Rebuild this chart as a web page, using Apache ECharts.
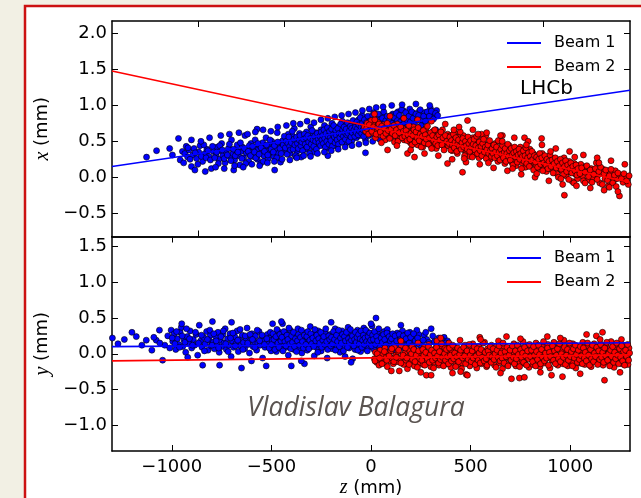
<!DOCTYPE html>
<html><head><meta charset="utf-8">
<script src="https://cdn.jsdelivr.net/npm/echarts@6/dist/echarts.min.js"></script>
<style>html,body{margin:0;padding:0;background:#f2f0e4}#c{width:641px;height:498px}</style>
</head><body><div id="c"></div>
<script>
// ---- data ----
const seriesNames = ['Beam 1', 'Beam 2'];
const zTicksBottom = [-1000, -500, 0, 500, 1000];
const zTicksTop = [-1000, -500, 0, 500, 1000];
const xTicks = [-0.5, 0, 0.5, 1.0, 1.5, 2.0];
const yTicks = [-1.0, -0.5, 0, 0.5, 1.0, 1.5];

// top panel fit lines (z, x)
const beam1LineX = [[-1500, 0.15], [1500, 1.21]];
const beam2LineX = [[-1500, 1.48], [1500, -0.07]];
// bottom panel fit lines (z, y)
const beam1LineY = [[-1300, 0.10], [1300, 0.155]];
const beam2LineY = [[-1300, -0.10], [1300, -0.015]];

// top panel vertices, beam 1 (z, x)
const beam1PtsX = [
[-1300,0.28],[-1242,0.37],[-1166,0.40],[-1115,0.54],[-1150,0.31],[-1105,0.24],
[-1092,0.36],[-1085,0.20],[-1078,0.33],[-1070,0.43],[-1062,0.28],[-1055,0.38],[-1040,0.15],[-1032,0.31],[-1025,0.40],[-1010,0.26],[-998,0.35],[-990,0.44],[-975,0.22],[-962,0.33],[-950,0.39],[-938,0.29],[-925,0.12],[-912,0.36],
[-898,0.31],[-890,0.42],[-880,0.25],[-872,0.37],[-865,0.47],[-858,0.30],[-845,0.20],[-838,0.35],[-826,0.40],[-815,0.28],[-808,0.52],[-800,0.33],[-790,0.24],[-782,0.38],[-775,0.45],[-768,0.30],[-760,0.17],[-752,0.36],[-745,0.42],[-738,0.27],[-730,0.58],[-722,0.34],[-715,0.40],[-708,0.22],[-702,0.31],[-795,0.10],
[-695,0.47],[-690,0.36],[-684,0.29],[-678,0.41],[-671,0.52],[-665,0.33],[-658,0.25],[-652,0.39],[-645,0.44],[-640,0.19],[-633,0.35],[-627,0.48],[-620,0.30],[-614,0.40],[-608,0.55],[-601,0.37],[-595,0.26],[-588,0.43],[-582,0.34],[-575,0.50],[-569,0.41],[-562,0.29],[-556,0.46],[-550,0.38],[-543,0.62],[-537,0.33],[-530,0.45],[-524,0.21],[-517,0.42],[-511,0.51],[-505,0.36],[-660,0.67],[-558,0.10],
[-498,0.47],[-494,0.55],[-489,0.38],[-484,0.44],[-479,0.60],[-474,0.49],[-469,0.33],[-464,0.52],[-459,0.42],[-454,0.57],[-449,0.46],[-444,0.68],[-439,0.40],[-434,0.50],[-429,0.36],[-424,0.54],[-419,0.45],[-414,0.61],[-409,0.48],[-404,0.28],[-399,0.52],[-394,0.43],[-389,0.57],[-384,0.49],[-379,0.39],[-374,0.63],[-369,0.51],[-364,0.45],[-359,0.55],[-354,0.41],[-349,0.70],[-344,0.50],[-339,0.58],[-334,0.46],[-329,0.35],[-324,0.53],[-319,0.62],[-314,0.48],[-309,0.56],[-304,0.44],[-437,0.29],
[-298,0.60],[-294,0.51],[-290,0.66],[-286,0.55],[-282,0.45],[-278,0.62],[-274,0.57],[-270,0.72],[-266,0.50],[-262,0.59],[-258,0.40],[-254,0.64],[-250,0.55],[-246,0.68],[-242,0.52],[-238,0.61],[-234,0.47],[-230,0.58],[-226,0.75],[-222,0.54],[-218,0.63],[-214,0.49],[-210,0.66],[-206,0.57],[-202,0.44],[-198,0.62],[-194,0.53],[-190,0.70],[-186,0.59],[-182,0.64],[-178,0.50],[-174,0.67],[-170,0.56],[-166,0.78],[-162,0.61],[-158,0.52],[-154,0.65],[-150,0.58],[-146,0.71],[-142,0.48],[-138,0.63],[-134,0.57],[-130,0.69],[-126,0.54],[-122,0.66],[-118,0.60],[-114,0.73],[-110,0.51],[-106,0.64],[-250,0.30],
[-100,0.69],[-96,0.60],[-92,0.74],[-88,0.65],[-84,0.55],[-80,0.71],[-76,0.63],[-72,0.80],[-68,0.67],[-64,0.58],[-60,0.72],[-56,0.64],[-52,0.86],[-48,0.69],[-44,0.61],[-40,0.75],[-36,0.66],[-32,0.52],[-28,0.71],[-24,0.79],[-20,0.63],[-16,0.70],[-12,0.58],[-8,0.74],[-4,0.67],[0,0.82],[4,0.62],[8,0.72],[12,0.68],[16,0.90],[20,0.64],[24,0.76],[28,0.57],[32,0.71],[36,0.81],[40,0.66],[44,0.74],[48,0.60],[52,0.78],[56,0.69],[60,0.87],[64,0.72],[68,0.63],[72,0.76],[76,0.68],[80,0.84],[84,0.70],[88,0.61],[92,0.79],[96,0.73],[-32,0.34],
[102,0.75],[108,0.66],[114,0.82],[120,0.71],[126,0.88],[132,0.77],[138,0.64],[144,0.80],[150,0.72],[156,0.91],[162,0.76],[168,0.84],[174,0.69],[180,0.79],[186,0.93],[192,0.74],[198,0.83],[204,0.70],[210,0.87],[216,0.78],[224,0.95],[232,0.81],[240,0.73],[248,0.89],[256,0.79],[264,0.85],[272,0.68],[280,0.92],[290,0.83],[300,0.77],[310,0.90],[320,0.86],[332,0.80],[344,0.96],[356,0.88],[368,0.84],[380,0.93],[210,0.63],[160,0.60],[290,0.72],
[-1060,0.41],[-1048,0.25],[-1018,0.34],[-1003,0.18],[-983,0.29],[-968,0.45],[-955,0.27],[-944,0.37],[-930,0.24],[-918,0.43],[-905,0.27],
[-894,0.35],[-884,0.19],[-876,0.44],[-861,0.38],[-850,0.26],[-832,0.31],[-820,0.46],[-811,0.23],[-797,0.39],[-786,0.30],[-771,0.35],[-756,0.48],[-748,0.26],[-733,0.40],[-726,0.19],[-711,0.36],[-705,0.44],
[-698,0.30],[-686,0.43],[-675,0.35],[-667,0.27],[-655,0.47],[-648,0.32],[-636,0.41],[-624,0.22],[-617,0.36],[-605,0.45],[-598,0.31],[-585,0.52],[-578,0.39],[-566,0.35],[-559,0.44],[-546,0.27],[-540,0.49],[-527,0.40],[-520,0.33],[-508,0.45],[-502,0.57],
[-496,0.41],[-491,0.50],[-486,0.32],[-481,0.47],[-476,0.56],[-471,0.43],[-466,0.38],[-461,0.48],[-456,0.64],[-451,0.39],[-446,0.53],[-441,0.45],[-436,0.30],[-431,0.56],[-426,0.47],[-421,0.40],[-416,0.52],[-411,0.58],[-406,0.44],[-401,0.49],[-396,0.37],[-391,0.53],[-386,0.60],[-381,0.46],[-376,0.55],[-371,0.42],[-366,0.58],[-361,0.49],[-356,0.33],[-351,0.54],[-346,0.46],[-341,0.65],[-336,0.52],[-331,0.43],[-326,0.57],[-321,0.50],[-316,0.39],[-311,0.61],[-306,0.53],[-301,0.48],
[-296,0.57],[-292,0.44],[-288,0.63],[-284,0.52],[-280,0.58],[-276,0.47],[-272,0.66],[-268,0.54],[-264,0.42],[-260,0.61],[-256,0.50],[-252,0.69],[-248,0.57],[-244,0.46],[-240,0.64],[-236,0.55],[-232,0.51],[-228,0.67],[-224,0.43],[-220,0.59],[-216,0.72],[-212,0.56],[-208,0.48],[-204,0.65],[-200,0.58],[-196,0.52],[-192,0.68],[-188,0.46],[-184,0.61],[-180,0.55],[-176,0.74],[-172,0.60],[-168,0.49],[-164,0.66],[-160,0.57],[-156,0.70],[-152,0.62],[-148,0.53],[-144,0.67],[-140,0.59],[-136,0.76],[-132,0.61],[-128,0.50],[-124,0.65],[-120,0.71],[-116,0.56],[-112,0.68],[-108,0.62],[-104,0.79],
[-98,0.66],[-94,0.57],[-90,0.70],[-86,0.62],[-82,0.77],[-78,0.68],[-74,0.59],[-70,0.73],[-66,0.64],[-62,0.83],[-58,0.70],[-54,0.61],[-50,0.75],[-46,0.66],[-42,0.57],[-38,0.80],[-34,0.69],[-30,0.63],[-26,0.76],[-22,0.67],[-18,0.85],[-14,0.73],[-10,0.64],[-6,0.78],[-2,0.70],[2,0.60],[6,0.77],[10,0.86],[14,0.71],[18,0.66],[22,0.80],[26,0.73],[30,0.63],[34,0.77],[38,0.70],[42,0.88],[46,0.75],[50,0.65],[54,0.80],[58,0.72],[62,0.67],[66,0.82],[70,0.74],[74,0.91],[78,0.72],[82,0.65],[86,0.79],[90,0.71],[94,0.85],[98,0.68],
[105,0.78],[111,0.70],[117,0.86],[123,0.75],[129,0.67],[135,0.83],[141,0.74],[147,0.89],[153,0.79],[159,0.70],[165,0.86],[171,0.77],[177,0.94],[183,0.73],[189,0.82],[195,0.76],[201,0.90],[207,0.80],[213,0.72],[220,0.85],[228,0.77],[236,0.91],[244,0.82],[252,0.74],[260,0.88],[268,0.80],[276,0.86],[285,0.94],[295,0.80],[305,0.85],[315,0.78],[326,0.91],[338,0.85],[350,0.92],[362,0.81],[374,0.89],[386,0.86],
[-1040,0.52],[-1020,0.10],[-985,0.50],[-960,0.08],[-935,0.55],[-900,0.14],[-870,0.58],[-850,0.12],[-820,0.60],[-790,0.16],[-765,0.62],[-740,0.14],[-715,0.60],[-690,0.18],[-670,0.63],[-645,0.16],[-625,0.66],[-600,0.20],[-580,0.64],[-560,0.22],[-540,0.70],[-515,0.25],[-490,0.72],[-470,0.24],[-450,0.75],[-430,0.27],[-410,0.74],[-390,0.30],[-370,0.78],[-350,0.29],[-330,0.76],[-310,0.33],[-290,0.80],[-270,0.35],[-250,0.82],[-230,0.37],[-210,0.84],[-190,0.39],[-170,0.86],[-150,0.42],[-130,0.88],[-110,0.44],[-90,0.90],[-70,0.46],[-50,0.93],[-30,0.48],[-10,0.95],[10,0.50],[30,0.97],[50,0.53],[70,0.98],[90,0.55],[120,1.00],[150,0.57],[180,1.01],[220,0.60],[260,1.02],[300,0.63],[340,1.00],[375,0.66]
];

// top panel vertices, beam 2 (z, x)
const beam2PtsX = [
[-38,0.70],[-30,0.64],[-22,0.75],[-14,0.60],[-6,0.68],[2,0.79],[10,0.62],[18,0.72],[26,0.55],[34,0.66],[42,0.76],[50,0.59],[58,0.69],[66,0.63],[74,0.73],[82,0.52],[90,0.66],[96,0.38],[104,0.60],[112,0.71],[120,0.57],[128,0.65],[136,0.49],[144,0.62],[152,0.74],[160,0.55],[168,0.64],[176,0.59],[184,0.68],[192,0.52],
[200,0.61],[206,0.54],[211,0.33],[216,0.66],[222,0.57],[228,0.48],[234,0.63],[240,0.55],[246,0.70],[252,0.28],[258,0.52],[264,0.60],[270,0.45],[276,0.58],[282,0.65],[288,0.50],[294,0.56],[300,0.42],[306,0.62],[312,0.53],[318,0.68],[324,0.47],[330,0.57],[336,0.51],[342,0.61],[348,0.44],[354,0.55],[360,0.64],[366,0.49],[372,0.58],[378,0.40],[384,0.53],[390,0.62],[396,0.47],[402,0.56],[408,0.50],[414,0.66],[420,0.44],[428,0.54],[436,0.48],[443,0.19],[444,0.60],
[450,0.52],[455,0.43],[460,0.58],[465,0.47],[470,0.37],[475,0.54],[480,0.46],[485,0.62],[490,0.41],[495,0.51],[500,0.33],[505,0.48],[510,0.56],[515,0.40],[520,0.50],[525,0.44],[530,0.07],[535,0.58],[540,0.38],[545,0.47],[550,0.53],[555,0.35],[559,0.79],[560,0.45],[565,0.51],[570,0.29],[575,0.43],[580,0.49],[585,0.37],[590,0.55],[595,0.41],[600,0.46],[605,0.32],[610,0.50],[615,0.39],[620,0.44],[625,0.27],[630,0.47],[635,0.36],[640,0.52],[645,0.40],[650,0.34],[655,0.45],[660,0.38],[665,0.58],[670,0.31],[675,0.42],[680,0.36],[685,0.48],[690,0.25],[695,0.39],[640,0.60],
[700,0.35],[705,0.42],[710,0.29],[715,0.38],[720,0.47],[725,0.32],[730,0.37],[735,0.22],[740,0.40],[745,0.31],[750,0.36],[755,0.49],[760,0.28],[765,0.34],[770,0.41],[775,0.19],[780,0.30],[785,0.37],[790,0.26],[795,0.33],[800,0.44],[805,0.29],[810,0.35],[815,0.21],[820,0.31],[825,0.38],[830,0.25],[835,0.33],[840,0.16],[845,0.28],[850,0.36],[855,0.24],[860,0.30],[865,0.42],[870,0.27],[875,0.20],[880,0.32],[885,0.25],[890,0.35],[895,0.14],[900,0.28],[905,0.22],[910,0.31],[915,0.26],[920,0.39],[925,0.18],[930,0.27],[935,0.23],[940,0.33],[945,0.20],[761,0.58],[889,0.55],
[950,0.25],[956,0.17],[962,0.30],[968,0.21],[974,0.12],[980,0.26],[986,0.19],[992,0.33],[998,0.22],[1004,0.15],[1010,0.24],[1016,0.08],[1022,0.20],[1028,0.28],[1034,0.16],[1040,0.22],[1046,0.11],[1052,0.19],[1058,0.26],[1064,0.14],[1070,0.21],[1076,0.05],[1082,0.17],[1088,0.24],[1094,0.12],[1100,0.19],[1106,0.09],[1112,0.16],[1118,0.27],[1120,-0.25],[1124,0.13],[1130,0.02],[1136,0.18],[1142,0.10],[1148,0.22],[1154,0.07],[1160,0.14],[1166,-0.06],[1172,0.11],[1178,0.19],[1184,0.04],[1190,0.13],[1196,-0.02],[988,0.54],
[1205,0.10],[1215,0.18],[1225,0.02],[1235,0.09],[1245,0.15],[1255,-0.04],[1265,0.06],[1275,0.12],[1285,-0.01],[1295,0.08],[1305,0.20],[1315,0.03],[1325,-0.08],[1335,0.06],[1345,0.11],[1355,-0.02],[1365,0.04],[1375,-0.12],[1385,0.07],[1395,0.00],[1405,-0.05],[1415,0.09],[1425,-0.02],[1439,-0.26],[1445,0.03],[1460,-0.07],[1475,0.01],[1490,-0.10],
[-25,0.68],[-10,0.73],[5,0.64],[14,0.70],[22,0.80],[30,0.60],[38,0.69],[46,0.74],[54,0.63],[62,0.71],[70,0.57],[78,0.68],[86,0.61],[94,0.75],[100,0.65],[108,0.54],[116,0.67],[124,0.61],[132,0.72],[140,0.58],[148,0.66],[156,0.50],[164,0.62],[172,0.70],[180,0.55],[188,0.64],[196,0.57],
[203,0.65],[209,0.51],[214,0.59],[219,0.72],[225,0.53],[231,0.61],[237,0.45],[243,0.58],[249,0.66],[255,0.49],[261,0.63],[267,0.55],[273,0.69],[279,0.51],[285,0.60],[291,0.42],[297,0.57],[303,0.65],[309,0.48],[315,0.59],[321,0.53],[327,0.71],[333,0.46],[339,0.55],[345,0.62],[351,0.40],[357,0.58],[363,0.51],[369,0.66],[375,0.47],[381,0.56],[387,0.44],[393,0.59],[399,0.52],[405,0.63],[411,0.45],[417,0.55],[423,0.38],[431,0.58],[439,0.50],[447,0.44],
[452,0.47],[457,0.56],[462,0.38],[467,0.51],[472,0.45],[477,0.60],[482,0.41],[487,0.49],[492,0.55],[497,0.36],[502,0.46],[507,0.52],[512,0.43],[517,0.63],[522,0.39],[527,0.48],[532,0.54],[537,0.42],[542,0.30],[547,0.50],[552,0.44],[557,0.39],[562,0.56],[567,0.47],[572,0.36],[577,0.51],[582,0.42],[587,0.28],[592,0.46],[597,0.53],[602,0.38],[607,0.44],[612,0.57],[617,0.33],[622,0.41],[627,0.49],[632,0.37],[637,0.43],[642,0.30],[647,0.47],[652,0.53],[657,0.35],[662,0.42],[667,0.26],[672,0.39],[677,0.45],[682,0.33],[687,0.51],[692,0.37],[697,0.29],
[702,0.40],[707,0.33],[712,0.45],[717,0.27],[722,0.36],[727,0.42],[732,0.30],[737,0.51],[742,0.35],[747,0.24],[752,0.39],[757,0.32],[762,0.44],[767,0.27],[772,0.35],[777,0.40],[782,0.22],[787,0.33],[792,0.46],[797,0.29],[802,0.37],[807,0.24],[812,0.40],[817,0.31],[822,0.17],[827,0.34],[832,0.42],[837,0.28],[842,0.36],[847,0.21],[852,0.31],[857,0.39],[862,0.25],[867,0.33],[872,0.12],[877,0.29],[882,0.37],[887,0.22],[892,0.30],[897,0.41],[902,0.19],[907,0.27],[912,0.34],[917,0.15],[922,0.29],[927,0.23],[932,0.36],[937,0.25],[942,0.10],[947,0.30],
[953,0.21],[959,0.28],[965,0.14],[971,0.25],[977,0.33],[983,0.18],[989,0.27],[995,0.09],[1001,0.20],[1007,0.30],[1013,0.17],[1019,0.25],[1025,0.12],[1031,0.22],[1037,0.31],[1043,0.15],[1049,0.24],[1055,0.06],[1061,0.19],[1067,0.27],[1073,0.13],[1079,0.22],[1085,0.00],[1091,0.16],[1097,0.25],[1103,0.11],[1109,0.20],[1115,0.04],[1121,0.15],[1127,0.23],[1133,0.08],[1139,0.17],[1145,-0.03],[1151,0.12],[1157,0.20],[1163,0.06],[1169,0.15],[1175,-0.08],[1181,0.09],[1187,0.17],[1193,0.03],[1199,0.12],
[1210,0.05],[1220,0.13],[1230,-0.05],[1240,0.07],[1250,0.16],[1260,0.01],[1270,0.10],[1280,-0.07],[1290,0.04],[1300,0.12],[1310,-0.03],[1320,0.08],[1330,0.14],[1340,-0.10],[1350,0.05],[1360,0.10],[1370,-0.04],[1380,0.02],[1390,0.11],[1400,-0.08],[1410,0.03],[1420,-0.13],[1430,0.06],[1450,-0.02],[1465,0.05],[1480,-0.05],[1495,0.02],
[20,0.88],[60,0.48],[110,0.85],[150,0.44],[190,0.82],[230,0.38],[270,0.80],[310,0.33],[350,0.78],[390,0.30],[430,0.74],[470,0.25],[510,0.70],[550,0.21],[590,0.66],[630,0.18],[670,0.62],[710,0.13],[750,0.58],[790,0.09],[830,0.55],[870,0.04],[910,0.50],[950,0.00],[990,0.45],[1030,-0.05],[1070,0.40],[1110,-0.10],[1150,0.36],[1190,-0.12],[1230,0.31],[1270,-0.15],[1310,0.27],[1350,-0.18],[1390,0.23],[1430,-0.20],[1470,0.18],[480,0.66],[620,0.60],[760,0.50],[900,0.45],[1040,0.36],[1180,0.28],[1320,0.20],[540,0.26],[680,0.20],[820,0.12],[960,0.05],[1100,-0.02],[1240,-0.08],[1380,-0.14]
];

// bottom panel vertices, beam 1 (z, y)
const beam1PtsY = [
[-1298,0.22],[-1238,0.20],[-1178,0.24],[-1128,0.19],[-1100,0.05],[-1078,0.19],[-1062,0.33],[-1046,-0.09],[-1035,0.12],[-1020,0.25],[-1010,0.08],[-1003,0.33],[-1150,0.12],[-1270,0.14],[-1060,0.15],[-1090,0.23],
[-995,0.17],[-988,0.28],[-980,0.06],[-972,0.21],[-965,0.13],[-958,0.30],[-952,0.37],[-945,0.10],[-938,0.19],[-930,0.02],[-922,0.24],[-915,0.15],[-908,0.32],[-900,0.08],[-892,0.20],[-885,0.12],[-878,0.27],[-870,-0.02],[-862,0.40],[-855,0.18],[-848,0.09],[-845,-0.16],[-840,0.23],[-832,0.14],[-825,0.31],[-818,0.05],[-812,0.19],[-806,0.26],[-802,0.11],[-920,-0.05],
[-796,0.45],[-792,0.16],[-786,0.07],[-780,0.24],[-774,0.13],[-768,0.30],[-762,0.02],[-760,-0.16],[-756,0.19],[-750,0.10],[-744,0.27],[-738,0.15],[-732,0.35],[-726,0.06],[-720,0.21],[-714,0.12],[-708,0.28],[-702,-0.04],[-696,0.18],[-690,0.09],[-684,0.24],[-678,0.14],[-672,0.32],[-666,0.03],[-660,0.20],[-654,0.11],[-650,-0.20],[-646,0.26],[-640,0.16],[-634,0.07],[-628,0.22],[-622,0.36],[-616,0.13],[-610,0.01],[-604,0.19],[-598,0.28],[-592,0.10],[-586,0.17],[-580,0.25],[-574,0.05],[-568,0.15],[-562,0.31],[-556,0.12],[-550,0.21],[-544,-0.06],[-538,0.18],[-532,0.09],[-526,-0.17],[-520,0.27],[-514,0.14],[-508,0.22],[-502,0.04],
[-497,0.19],[-494,0.42],[-490,0.10],[-485,0.25],[-480,0.15],[-475,0.03],[-470,0.21],[-465,0.31],[-460,0.12],[-455,0.18],[-450,0.07],[-444,0.42],[-440,0.23],[-435,0.14],[-430,0.28],[-425,0.09],[-420,0.19],[-415,-0.02],[-410,0.16],[-405,0.33],[-400,-0.17],[-396,0.11],[-392,0.22],[-387,0.06],[-382,0.17],[-377,0.26],[-372,0.13],[-367,0.35],[-362,0.08],[-357,0.20],[-352,0.15],[-347,0.01],[-342,0.24],[-337,0.12],[-334,-0.14],[-330,0.29],[-325,0.18],[-320,0.05],[-315,0.21],[-310,0.14],[-305,0.38],[-300,0.10],[-295,0.19],[-290,0.27],[-285,-0.03],[-280,0.16],[-275,0.23],[-270,0.08],[-265,0.32],[-260,0.13],[-255,0.20],[-250,0.04],[-245,0.25],[-240,0.15],[-235,0.10],[-230,0.30],[-225,0.18],[-220,-0.06],[-215,0.22],[-210,0.12],[-205,0.27],
[-200,0.16],[-195,0.07],[-190,0.24],[-185,0.13],[-180,0.35],[-175,0.19],[-170,0.09],[-165,0.28],[-160,0.15],[-155,0.02],[-150,0.21],[-145,0.32],[-140,0.11],[-135,0.18],[-130,-0.04],[-125,0.25],[-120,0.14],[-115,0.37],[-110,0.08],[-105,0.20],[-100,0.29],[-95,0.12],[-92,-0.07],[-88,0.17],[-84,0.26],[-80,0.06],[-76,0.22],[-72,0.14],[-68,0.33],[-64,0.10],[-60,0.19],[-56,0.27],[-52,0.03],[-48,0.16],[-44,0.24],[-40,0.11],[-36,0.36],[-32,0.18],[-28,0.07],[-24,0.23],[-20,0.14],[-16,0.30],[-12,0.09],[-8,0.20],[-4,0.26],[0,0.13],[5,0.39],[10,0.17],[15,0.06],[20,0.22],[25,0.50],[30,0.15],[36,0.28],[42,0.10],[48,0.19],[54,0.25],[60,0.12],[66,0.31],[72,0.08],[78,0.21],[82,0.34],[88,0.16],[94,0.27],
[100,0.13],[106,0.23],[112,0.05],[118,0.19],[126,0.05],[132,0.29],[138,0.15],[145,0.22],[152,0.09],[158,0.32],[165,0.18],[172,0.26],[180,0.12],[188,0.21],[195,0.30],[202,0.16],[210,0.24],[218,0.10],[226,0.19],[240,0.27],[255,0.14],[267,0.26],[280,0.20],[302,0.35],[318,0.17],[340,0.22],[367,0.23],[384,0.18],[230,0.33],[210,0.07],
[-998,0.22],[-984,0.14],[-976,0.31],[-961,0.09],[-948,0.25],[-934,0.16],[-926,0.35],[-911,0.21],[-896,0.12],[-881,0.30],[-866,0.15],[-851,0.26],[-836,0.04],[-821,0.20],[-809,0.33],
[-798,0.12],[-789,0.28],[-777,0.18],[-765,0.08],[-753,0.24],[-741,0.32],[-729,0.14],[-717,0.03],[-705,0.22],[-693,0.29],[-681,0.11],[-669,0.19],[-657,0.34],[-643,0.06],[-631,0.25],[-619,0.15],[-607,0.27],[-595,0.20],[-583,0.09],[-571,0.33],[-559,0.18],[-547,0.26],[-535,0.13],[-523,0.21],[-511,0.08],[-505,0.30],
[-499,0.13],[-492,0.28],[-487,0.20],[-482,0.06],[-477,0.24],[-472,0.34],[-467,0.15],[-462,0.09],[-457,0.27],[-452,0.18],[-447,0.23],[-442,0.04],[-437,0.31],[-432,0.17],[-427,0.11],[-422,0.26],[-417,0.20],[-412,0.36],[-407,0.14],[-402,0.07],[-398,0.25],[-394,0.16],[-389,0.30],[-384,0.10],[-379,0.21],[-374,0.03],[-369,0.18],[-364,0.27],[-359,0.12],[-354,0.23],[-349,0.33],[-344,0.17],[-339,0.08],[-335,0.26],[-327,0.13],[-322,0.24],[-317,0.31],[-312,0.07],[-307,0.19],[-302,0.28],[-297,0.14],[-292,0.22],[-287,0.10],[-282,0.34],[-277,0.18],[-272,0.26],[-267,0.02],[-262,0.21],[-257,0.15],[-252,0.30],[-247,0.09],[-242,0.19],[-237,0.24],[-232,0.13],[-227,0.35],[-222,0.17],[-217,0.06],[-212,0.25],[-207,0.20],[-202,0.11],
[-198,0.23],[-193,0.14],[-188,0.31],[-183,0.20],[-178,0.05],[-173,0.26],[-168,0.17],[-163,0.33],[-158,0.10],[-153,0.22],[-148,0.15],[-143,0.27],[-138,0.04],[-133,0.24],[-128,0.18],[-123,0.30],[-118,0.09],[-113,0.21],[-108,0.16],[-103,0.34],[-98,0.19],[-93,0.25],[-86,0.11],[-82,0.20],[-78,0.30],[-74,0.16],[-70,0.23],[-66,0.05],[-62,0.27],[-58,0.14],[-54,0.21],[-50,0.32],[-46,0.09],[-42,0.19],[-38,0.26],[-34,0.13],[-30,0.22],[-26,0.33],[-22,0.17],[-18,0.04],[-14,0.24],[-10,0.15],[-6,0.29],[-2,0.19],[3,0.11],[8,0.26],[12,0.20],[18,0.31],[23,0.13],[28,0.24],[33,0.18],[39,0.35],[45,0.09],[51,0.22],[57,0.16],[63,0.27],[69,0.20],[75,0.12],[80,0.29],[86,0.07],[91,0.24],[97,0.18],
[103,0.21],[109,0.28],[115,0.14],[121,0.25],[129,0.18],[135,0.10],[142,0.27],[148,0.20],[155,0.14],[162,0.25],[168,0.08],[176,0.21],[184,0.29],[192,0.15],[199,0.23],[206,0.11],[214,0.28],[222,0.18],[234,0.22],[248,0.12],[262,0.19],[275,0.30],[290,0.16],[310,0.25],[330,0.12],[355,0.20],[375,0.15],
[-950,0.42],[-700,0.44],[-450,0.45],[-200,0.44],[0,0.42],[-600,-0.10],[-350,-0.10],[-100,-0.12],[150,0.40],[-1200,0.30]
];

// bottom panel vertices, beam 2 (z, y)
const beam2PtsY = [
[17,-0.07],[22,0.02],[28,-0.12],[34,-0.03],[40,-0.16],[46,0.05],[52,-0.08],[58,-0.01],[64,-0.13],[70,0.08],[76,-0.05],[82,-0.18],[88,0.00],[94,-0.10],[100,0.04],[102,-0.24],[106,-0.06],[112,-0.14],[118,0.09],[124,-0.02],[130,-0.11],[136,0.03],[142,-0.24],[146,-0.07],[152,0.12],[158,-0.04],[164,-0.15],[170,0.01],[176,-0.09],[183,-0.21],[188,0.06],[194,-0.03],[200,-0.12],[206,0.10],[212,-0.06],[218,-0.17],[224,0.02],[230,-0.08],[236,0.15],[242,-0.02],[248,-0.13],
[252,0.04],[257,-0.06],[262,-0.15],[267,0.09],[272,-0.03],[278,-0.30],[280,-0.10],[285,0.01],[290,0.13],[295,-0.07],[300,-0.18],[302,-0.30],[306,0.03],[311,-0.05],[316,-0.12],[321,0.07],[326,-0.01],[331,0.18],[336,-0.09],[341,-0.16],[346,0.05],[351,-0.04],[356,0.11],[361,-0.11],[366,-0.02],[371,0.08],[376,-0.14],[381,-0.06],[386,0.02],[391,0.15],[396,-0.08],[401,-0.19],[406,0.04],[409,-0.27],[412,-0.03],[417,0.10],[422,-0.12],[427,-0.05],[432,0.06],[437,-0.15],[442,0.00],[447,0.19],[452,-0.07],[457,-0.13],[462,0.05],[467,-0.02],[472,0.12],[478,-0.29],[480,-0.10],[484,-0.30],[486,0.03],[491,-0.06],[496,-0.17],
[501,0.08],[506,-0.04],[511,0.14],[516,-0.12],[521,-0.01],[526,0.06],[531,-0.20],[536,-0.07],[541,0.10],[546,0.23],[550,-0.03],[555,-0.14],[560,0.04],[565,-0.08],[570,0.16],[575,-0.01],[580,-0.18],[585,0.07],[590,-0.05],[595,-0.11],[600,0.02],[605,0.12],[610,-0.09],[615,-0.02],[620,-0.16],[625,0.09],[630,-0.06],[635,0.01],[640,0.18],[645,-0.13],[650,-0.04],[655,0.05],[660,-0.21],[665,0.11],[670,-0.08],[675,-0.01],[680,0.24],[685,-0.15],[690,0.03],[695,-0.06],[700,0.08],[705,-0.35],[708,-0.11],[712,-0.02],[717,0.14],[722,-0.07],[727,-0.17],[732,0.04],[737,-0.04],[742,0.10],[745,-0.34],[748,-0.12],[753,0.01],[758,-0.09],[763,0.17],[768,-0.03],[770,-0.33],[773,-0.14],[778,0.06],[783,-0.06],[788,0.12],[793,-0.19],[798,-0.01],
[803,0.09],[808,-0.08],[813,-0.15],[818,0.03],[823,-0.04],[828,0.15],[833,-0.11],[838,-0.02],[843,0.07],[848,-0.18],[853,-0.06],[858,0.11],[863,0.00],[868,-0.13],[873,0.05],[878,-0.07],[885,0.24],[888,0.13],[893,-0.03],[898,-0.20],[903,0.06],[906,-0.30],[908,-0.09],[913,0.02],[918,0.16],[923,-0.12],[928,-0.01],[933,0.08],[938,-0.16],[943,-0.05],[948,0.12],[953,-0.08],[958,0.03],[961,-0.32],[963,-0.14],[968,0.19],[973,-0.03],[978,-0.10],[983,0.05],[988,-0.17],[993,0.10],[998,-0.06],[1003,0.01],[1008,-0.12],[1013,0.14],[1018,-0.04],[1023,0.06],[1028,-0.20],[1033,-0.07],[1038,0.09],[1043,0.00],[1048,-0.13],
[1053,0.04],[1058,-0.09],[1063,0.16],[1068,-0.02],[1073,-0.15],[1078,0.07],[1082,0.27],[1085,-0.05],[1090,0.11],[1095,-0.11],[1100,0.02],[1105,-0.18],[1110,0.08],[1115,-0.04],[1120,0.14],[1125,-0.08],[1131,0.25],[1135,0.00],[1140,-0.13],[1145,0.10],[1150,-0.03],[1155,0.05],[1162,0.30],[1165,-0.16],[1170,0.03],[1172,-0.37],[1175,-0.07],[1180,0.12],[1185,-0.01],[1190,-0.12],[1195,0.07],[1200,-0.05],[1205,0.17],[1210,-0.09],[1215,0.01],[1220,-0.19],[1225,0.09],[1230,-0.03],[1235,0.13],[1240,-0.11],[1245,0.04],[1250,-0.06],[1257,0.20],[1260,-0.14],[1265,0.06],[1270,-0.02],[1275,0.11],[1280,-0.08],[1285,0.02],[1290,-0.15],[1295,0.08],
[20,-0.10],[31,0.00],[43,-0.06],[55,-0.14],[67,0.03],[79,-0.09],[91,-0.03],[104,0.07],[115,-0.11],[127,-0.05],[139,0.05],[150,-0.13],[161,-0.02],[173,0.08],[180,-0.06],[191,-0.15],[203,0.00],[209,-0.08],[215,0.06],[221,-0.11],[227,-0.02],[233,-0.19],[239,0.04],[245,-0.07],
[255,-0.09],[260,0.06],[265,-0.02],[270,-0.16],[275,0.02],[283,-0.07],[288,0.10],[293,-0.12],[298,-0.01],[304,0.05],[309,-0.09],[314,-0.20],[319,0.01],[324,-0.06],[329,0.09],[334,-0.03],[339,-0.13],[344,0.03],[349,-0.08],[354,0.14],[359,-0.05],[364,-0.17],[369,0.00],[374,-0.09],[379,0.06],[384,-0.04],[389,-0.14],[394,0.08],[399,-0.02],[404,-0.10],[410,0.12],[415,-0.07],[420,0.01],[425,-0.18],[430,-0.04],[435,0.08],[440,-0.11],[445,-0.01],[450,0.05],[455,-0.21],[460,-0.06],[465,0.09],[470,-0.03],[475,-0.14],[482,0.04],[488,-0.08],[493,0.13],[498,-0.02],
[503,-0.11],[508,0.04],[513,-0.06],[518,0.10],[523,-0.15],[528,-0.03],[533,0.07],[538,-0.09],[543,0.01],[548,-0.13],[553,0.06],[558,-0.05],[563,0.15],[568,-0.10],[573,0.02],[578,-0.07],[583,-0.16],[588,0.04],[593,-0.02],[598,0.10],[603,-0.12],[608,-0.04],[613,0.07],[618,-0.08],[623,0.00],[628,-0.19],[633,0.05],[638,-0.05],[643,0.11],[648,-0.10],[653,0.01],[658,-0.06],[663,0.15],[668,-0.13],[673,0.03],[678,-0.04],[683,0.09],[688,-0.17],[693,-0.02],[698,0.05],[703,-0.09],[710,0.11],[715,-0.05],[720,-0.14],[725,0.04],[730,-0.07],[735,0.12],[740,-0.01],[746,-0.18],[751,0.06],[756,-0.05],[761,0.01],[766,-0.12],[771,0.09],[776,-0.03],[781,-0.16],[786,0.04],[791,-0.07],[796,0.13],
[801,-0.04],[806,0.05],[811,-0.11],[816,0.10],[821,-0.02],[826,-0.17],[831,0.03],[836,-0.08],[841,0.12],[846,-0.01],[851,-0.14],[856,0.06],[861,-0.05],[866,0.17],[871,-0.10],[876,0.01],[881,-0.06],[886,0.08],[891,-0.16],[896,0.02],[901,-0.04],[911,0.11],[916,-0.09],[921,0.04],[926,-0.14],[931,-0.02],[936,0.07],[941,-0.07],[946,0.14],[951,-0.11],[956,0.00],[966,-0.05],[971,0.09],[976,-0.15],[981,-0.02],[986,0.06],[991,-0.09],[996,0.15],[1001,-0.04],[1006,0.03],[1011,-0.17],[1016,0.07],[1021,-0.06],[1026,0.12],[1031,-0.01],[1036,-0.12],[1041,0.05],[1046,-0.08],
[1051,0.10],[1056,-0.03],[1061,-0.14],[1066,0.08],[1071,-0.06],[1076,0.02],[1081,-0.10],[1087,0.15],[1092,-0.02],[1097,-0.16],[1102,0.06],[1107,-0.07],[1112,0.12],[1117,-0.11],[1122,0.01],[1127,-0.04],[1133,0.09],[1138,-0.15],[1143,0.04],[1148,-0.08],[1153,0.13],[1158,-0.05],[1163,0.02],[1168,-0.12],[1173,0.08],[1178,-0.03],[1183,0.16],[1188,-0.09],[1193,0.00],[1198,-0.17],[1203,0.05],[1208,-0.04],[1213,0.10],[1218,-0.12],[1223,0.02],[1228,-0.07],[1233,0.15],[1238,-0.02],[1243,-0.14],[1248,0.07],[1253,-0.05],[1258,0.11],[1263,-0.10],[1268,0.03],[1273,-0.16],[1278,0.05],[1283,-0.04],[1288,0.13],[1293,-0.09],[1298,0.01],
[150,0.18],[350,0.22],[550,0.20],[750,0.21],[950,0.22],[1150,0.20],[250,-0.26],[450,-0.25],[650,-0.27],[850,-0.26],[1050,-0.28],[1250,-0.26]
];

// ---- chart ----
const FONT = 'DejaVu Sans';
const BLUE = '#0000ff', RED = '#ff0000';
const fmtZ = v => (v < 0 ? '\u2212' : '') + Math.abs(v);
const fmtY = v => (v < 0 ? '\u2212' : '') + Math.abs(v).toFixed(1);
const nameStyle = { fontSize: 18, fontFamily: FONT, color: '#000',
  rich: { i: { fontFamily: 'Liberation Serif', fontStyle: 'italic', fontSize: 20, color: '#000' } } };

function xAx(gi, pos, min, max, ticks, showLabel, name) {
  return {
    type: 'value', gridIndex: gi, position: pos, min, max,
    axisLine: { show: true, onZero: false, lineStyle: { color: '#000', width: 1.5 } },
    axisTick: { show: true, inside: true, length: 6, customValues: ticks, lineStyle: { color: '#000', width: 1 } },
    axisLabel: { show: showLabel, customValues: ticks, formatter: fmtZ, margin: 7, color: '#000', fontSize: 18, fontFamily: FONT },
    splitLine: { show: false },
    name: name || '', nameLocation: 'middle', nameGap: 27, nameTextStyle: nameStyle
  };
}
function yAx(gi, pos, min, max, ticks, showLabel, name) {
  return {
    type: 'value', gridIndex: gi, position: pos, min, max,
    axisLine: { show: true, onZero: false, lineStyle: { color: '#000', width: 1.5 } },
    axisTick: { show: true, inside: true, length: 6, customValues: ticks, lineStyle: { color: '#000', width: 1 } },
    axisLabel: { show: showLabel, customValues: ticks, formatter: fmtY, margin: 5, color: '#000', fontSize: 18, fontFamily: FONT },
    splitLine: { show: false },
    name: name || '', nameLocation: 'middle', nameGap: 56, nameRotate: 90, nameTextStyle: nameStyle
  };
}
function pts(name, data, xi, yi, color) {
  return { name, type: 'scatter', xAxisIndex: xi, yAxisIndex: yi, data, symbol: 'circle', symbolSize: 6,
    itemStyle: { color, borderColor: '#000', borderWidth: 0.6, opacity: 1 }, clip: true, silent: true, z: 2,
    large: false, emphasis: { disabled: true } };
}
function ln(name, data, xi, yi, color) {
  return { name, type: 'line', xAxisIndex: xi, yAxisIndex: yi, data, symbol: 'none', showSymbol: false,
    lineStyle: { color, width: 1.6 }, itemStyle: { color }, clip: true, silent: true, z: 5, animation: false };
}
const legendCommon = {
  orient: 'vertical', left: 507, padding: 0, itemWidth: 34, itemHeight: 2, itemGap: 8, icon: 'rect',
  selectedMode: false, data: seriesNames,
  textStyle: { fontSize: 16, fontFamily: FONT, color: '#000', lineHeight: 16, padding: [0, 0, 0, 8] }
};

const option = {
  animation: false,
  backgroundColor: '#f2f0e4',
  grid: [
    { left: 112, top: 21, width: 518, height: 215.5, outerBoundsMode: 'none', containLabel: false },
    { left: 112, top: 236.5, width: 518, height: 214.5, outerBoundsMode: 'none', containLabel: false }
  ],
  xAxis: [
    xAx(0, 'bottom', -1500, 1500, zTicksTop, false),
    xAx(0, 'top', -1500, 1500, zTicksTop, false),
    xAx(1, 'bottom', -1300, 1300, zTicksBottom, true, '{i|z} (mm)'),
    xAx(1, 'top', -1300, 1300, zTicksBottom, false)
  ],
  yAxis: [
    yAx(0, 'left', -0.825, 2.175, xTicks, true, '{i|x} (mm)'),
    yAx(0, 'right', -0.825, 2.175, xTicks, false),
    yAx(1, 'left', -1.36, 1.64, yTicks, true, '{i|y} (mm)'),
    yAx(1, 'right', -1.36, 1.64, yTicks, false)
  ],
  legend: [
    Object.assign({}, legendCommon, { top: 35 }),
    Object.assign({}, legendCommon, { top: 250 })
  ],
  graphic: [
    { type: 'rect', z: -10, silent: true, shape: { x: 25, y: 6, width: 640, height: 520 },
      style: { fill: '#ffffff', stroke: '#cc1111', lineWidth: 2.5 } },
    { type: 'text', left: 520, top: 79, z: 10, silent: true,
      style: { text: 'LHCb', font: '20px "DejaVu Sans"', fill: '#000' } },
    { type: 'text', x: 356, y: 408, z: 10, silent: true,
      style: { text: 'Vladislav Balagura', font: 'italic 26.5px "Open Sans"', fill: '#5a5350', align: 'center', verticalAlign: 'middle' } }
  ],
  series: [
    pts('b1x', beam1PtsX, 0, 0, BLUE),
    pts('b2x', beam2PtsX, 0, 0, RED),
    pts('b1y', beam1PtsY, 2, 2, BLUE),
    pts('b2y', beam2PtsY, 2, 2, RED),
    ln('Beam 1', beam1LineX, 0, 0, BLUE),
    ln('Beam 2', beam2LineX, 0, 0, RED),
    ln('Beam 1', beam1LineY, 2, 2, BLUE),
    ln('Beam 2', beam2LineY, 2, 2, RED)
  ]
};
const chart = echarts.init(document.getElementById('c'), null, { renderer: 'canvas' });
chart.setOption(option);
</script>
</body></html>
